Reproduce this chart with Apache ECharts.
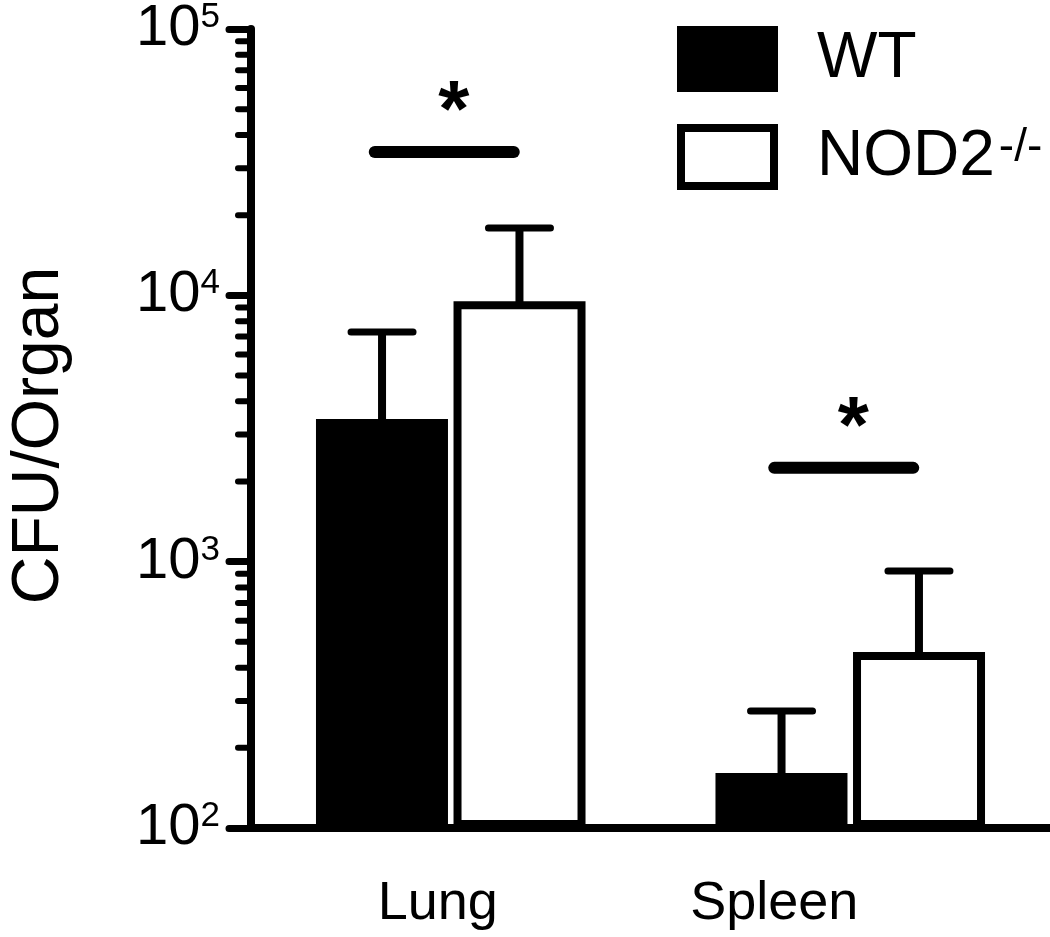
<!DOCTYPE html>
<html>
<head>
<meta charset="utf-8">
<script src="https://cdn.jsdelivr.net/npm/echarts@6/dist/echarts.min.js"></script>
<style>
html,body{margin:0;padding:0;background:#fff;}
#chart{width:1050px;height:937px;}
</style>
</head>
<body>
<div id="chart"></div>
<script>
// ---- data ----
const categories = ['Lung', 'Spleen'];
const seriesNames = ['WT', 'NOD2'];
const wtMean = [3430, 161];
const wtErrTop = [7280, 275];
const nodMean = [9500, 458];
const nodErrTop = [17900, 923];
const sigLineValue = [34500, 2250];
const sigMark = ['*', '*'];
const minorTickValues = [200, 300, 400, 500, 600, 700, 800, 900,
  2000, 3000, 4000, 5000, 6000, 7000, 8000, 9000,
  20000, 30000, 40000, 50000, 60000, 70000, 80000, 90000];

const FONT = 'Liberation Sans, Arial, Helvetica, sans-serif';
const chart = echarts.init(document.getElementById('chart'), null, {renderer: 'canvas'});

const BAR_W = 132;
const BORDER = 8;
const OFFSET_FRAC = 0.172; // bar centre offset as fraction of the category band

function errRender(sign) {
  return function (params, api) {
    const band = api.size([1, 0])[0];
    const c = api.coord([api.value(0), api.value(1)]);
    const t = api.coord([api.value(0), api.value(2)]);
    const x = c[0] + sign * band * OFFSET_FRAC;
    return {
      type: 'group',
      children: [
        {type: 'line', shape: {x1: x, y1: c[1] + 2, x2: x, y2: t[1]},
          style: {stroke: '#000', lineWidth: 8}},
        {type: 'line', shape: {x1: x - 31, y1: t[1], x2: x + 31, y2: t[1]},
          style: {stroke: '#000', lineWidth: 7, lineCap: 'round'}}
      ]
    };
  };
}

const option = {
  animation: false,
  backgroundColor: '#fff',
  textStyle: {fontFamily: FONT, color: '#000'},
  grid: {left: 251, right: 0, top: 29, bottom: 109, containLabel: false, outerBoundsMode: 'none'},
  legend: {
    data: seriesNames,
    orient: 'vertical',
    left: 672,
    top: 21,
    itemWidth: 93,
    itemHeight: 58,
    itemGap: 32,
    icon: 'rect',
    selectedMode: false,
    itemStyle: {borderWidth: 8, borderColor: '#000'},
    formatter: function (name) {
      return name === 'WT' ? '{n|WT}' : '{n|NOD2}{s|-/-}';
    },
    textStyle: {
      color: '#000', fontFamily: FONT, fontSize: 64,
      rich: {
        n: {fontSize: 64, fontFamily: FONT, color: '#000', padding: [0, 0, 0, 38]},
        s: {fontSize: 46, fontFamily: FONT, color: '#000', verticalAlign: 'top', padding: [0, 0, 0, 4]}
      }
    }
  },
  xAxis: {
    type: 'category',
    data: categories,
    axisLine: {lineStyle: {color: '#000', width: 8}},
    axisTick: {show: false},
    axisLabel: {
      margin: 49,
      formatter: function (v) { return v === 'Lung' ? '{a|Lung}' : '{b|Spleen}'; },
      rich: {
        a: {fontSize: 54, fontFamily: FONT, color: '#000', padding: [0, 26, 0, 0]},
        b: {fontSize: 54, fontFamily: FONT, color: '#000', padding: [0, 152, 0, 0]}
      }
    },
    splitLine: {show: false}
  },
  yAxis: {
    type: 'log',
    logBase: 10,
    min: 100,
    max: 100000,
    startValue: 100,
    name: 'CFU/Organ',
    nameLocation: 'middle',
    nameGap: 178,
    nameRotate: 90,
    nameMoveOverlap: false,
    nameTextStyle: {fontSize: 66, fontFamily: FONT, color: '#000', padding: [0, 14, 0, 0]},
    axisLine: {show: true, lineStyle: {color: '#000', width: 8}},
    axisTick: {show: true, length: 22, lineStyle: {color: '#000', width: 7, cap: 'round'}},
    splitLine: {show: false},
    axisLabel: {
      margin: 31,
      formatter: function (v) {
        const e = Math.round(Math.log10(v));
        return '{b|10}{s|' + e + '}';
      },
      rich: {
        b: {fontSize: 58, fontFamily: FONT, color: '#000', lineHeight: 58},
        s: {fontSize: 35, fontFamily: FONT, color: '#000', verticalAlign: 'top', lineHeight: 35}
      }
    }
  },
  series: [
    {
      name: 'WT', type: 'bar', data: wtMean,
      barWidth: BAR_W, barGap: '4.2%',
      itemStyle: {color: '#000', borderColor: '#000', borderWidth: BORDER},
      z: 2
    },
    {
      name: 'NOD2', type: 'bar', data: nodMean,
      barWidth: BAR_W, barGap: '4.2%',
      itemStyle: {color: '#fff', borderColor: '#000', borderWidth: BORDER},
      z: 2
    },
    {
      name: 'errWT', type: 'custom', z: 3,
      data: categories.map((c, i) => [i, wtMean[i], wtErrTop[i]]),
      encode: {x: 0, y: [1, 2]},
      renderItem: errRender(-1)
    },
    {
      name: 'errNOD2', type: 'custom', z: 3,
      data: categories.map((c, i) => [i, nodMean[i], nodErrTop[i]]),
      encode: {x: 0, y: [1, 2]},
      renderItem: errRender(1)
    },
    {
      name: 'significance', type: 'custom', z: 3,
      data: categories.map((c, i) => [i, sigLineValue[i]]),
      encode: {x: 0, y: 1},
      renderItem: function (params, api) {
        const p = api.coord([api.value(0), api.value(1)]);
        return {
          type: 'group',
          children: [
            {type: 'line', shape: {x1: p[0] - 76, y1: p[1], x2: p[0] + 63, y2: p[1]},
              style: {stroke: '#000', lineWidth: 12, lineCap: 'round'}},
            {type: 'text', x: p[0] + 3, y: p[1] - 38,
              style: {text: sigMark[params.dataIndex], fontSize: 80, fontWeight: 'bold',
                fontFamily: FONT, fill: '#000', align: 'center', verticalAlign: 'middle'}}
          ]
        };
      }
    },
    {
      name: 'minorTicks', type: 'custom', z: 3,
      data: minorTickValues.map(v => [0, v]),
      encode: {x: 0, y: 1},
      renderItem: function (params, api) {
        const x0 = params.coordSys.x;
        const y = api.coord([0, api.value(1)])[1];
        return {type: 'line', shape: {x1: x0 - 13, y1: y, x2: x0, y2: y},
          style: {stroke: '#000', lineWidth: 6, lineCap: 'round'}};
      }
    }
  ]
};
chart.setOption(option);
</script>
</body>
</html>
